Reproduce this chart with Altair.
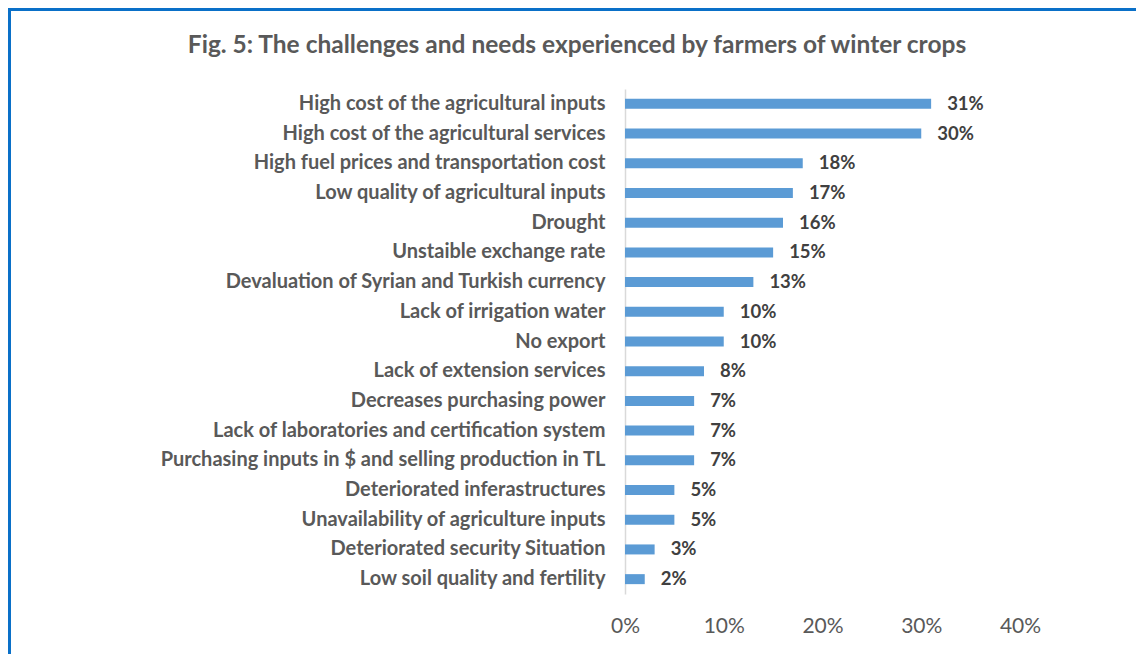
import altair as alt
import pandas as pd

categories = [
    "High cost of the agricultural inputs",
    "High cost of the agricultural services",
    "High fuel prices and transportation cost",
    "Low quality of agricultural inputs",
    "Drought",
    "Unstaible exchange rate",
    "Devaluation of Syrian and Turkish currency",
    "Lack of irrigation water",
    "No export",
    "Lack of extension services ",
    "Decreases purchasing power",
    "Lack of laboratories and certification system",
    "Purchasing inputs in $ and selling  production in TL",
    "Deteriorated inferastructures",
    "Unavailability of agriculture inputs",
    "Deteriorated security Situation",
    "Low soil quality and fertility",
]
values = [0.31, 0.30, 0.18, 0.17, 0.16, 0.15, 0.13, 0.10, 0.10, 0.08, 0.07, 0.07, 0.07, 0.05, 0.05, 0.03, 0.02]
x_ticks = [0, 0.1, 0.2, 0.3, 0.4]
title_text = "Fig. 5: The challenges and needs experienced by farmers of winter crops"

df = pd.DataFrame({"category": categories, "value": values})

W, H = 395, 505
PL, PT, PR, PB = 617, 81, 116, 60
FONT = "Lato"

base = alt.Chart(df)

bars = base.mark_bar(color="#5B9BD5", size=10).encode(
    y=alt.Y("category:N", sort=categories,
            axis=alt.Axis(title=None, ticks=False, domain=True, domainColor="#D9D9D9",
                          domainWidth=1.5, labelFont=FONT, labelFontSize=20,
                          labelFontWeight="bold", labelColor="#595959",
                          labelPadding=20, labelLimit=700)),
    x=alt.X("value:Q", scale=alt.Scale(domain=[0, 0.4], nice=False),
            axis=alt.Axis(title=None, values=x_ticks, format=".0%", grid=False,
                          domain=False, ticks=False, labelFont=FONT, labelFlush=False,
                          labelFontSize=21, labelColor="#595959", labelPadding=21)),
)

labels = base.mark_text(align="left", baseline="middle", dx=16, font=FONT,
                        fontSize=18.5, fontWeight="bold", color="#404040").encode(
    y=alt.Y("category:N", sort=categories),
    x="value:Q",
    text=alt.Text("value:Q", format=".0%"),
)

one = pd.DataFrame({"t": [title_text]})

title = alt.Chart(one).mark_text(align="center", baseline="middle", font=FONT,
                                 fontSize=24.5, fontWeight="bold", color="#595959").encode(
    x=alt.value(577 - 8 - PL), y=alt.value(46 - 8 - PT), text="t:N"
)

border_v = alt.Chart(one).mark_rule(color="#0A70C8", strokeWidth=3).encode(
    x=alt.value(-PL + 1.5), y=alt.value(-PT), y2=alt.value(H + PB)
)
border_h = alt.Chart(one).mark_rule(color="#0A70C8", strokeWidth=3).encode(
    y=alt.value(-PT + 1.5), x=alt.value(-PL), x2=alt.value(W + PR)
)

chart = alt.layer(bars, labels, title, border_v, border_h).properties(
    width=W, height=H,
    padding={"left": PL, "top": PT, "right": PR, "bottom": PB},
    autosize=alt.AutoSizeParams(type="none"),
).configure(background="white").configure_view(stroke="transparent", strokeWidth=0)

chart.save("out.html", embed_options={"renderer": "svg", "actions": False})
